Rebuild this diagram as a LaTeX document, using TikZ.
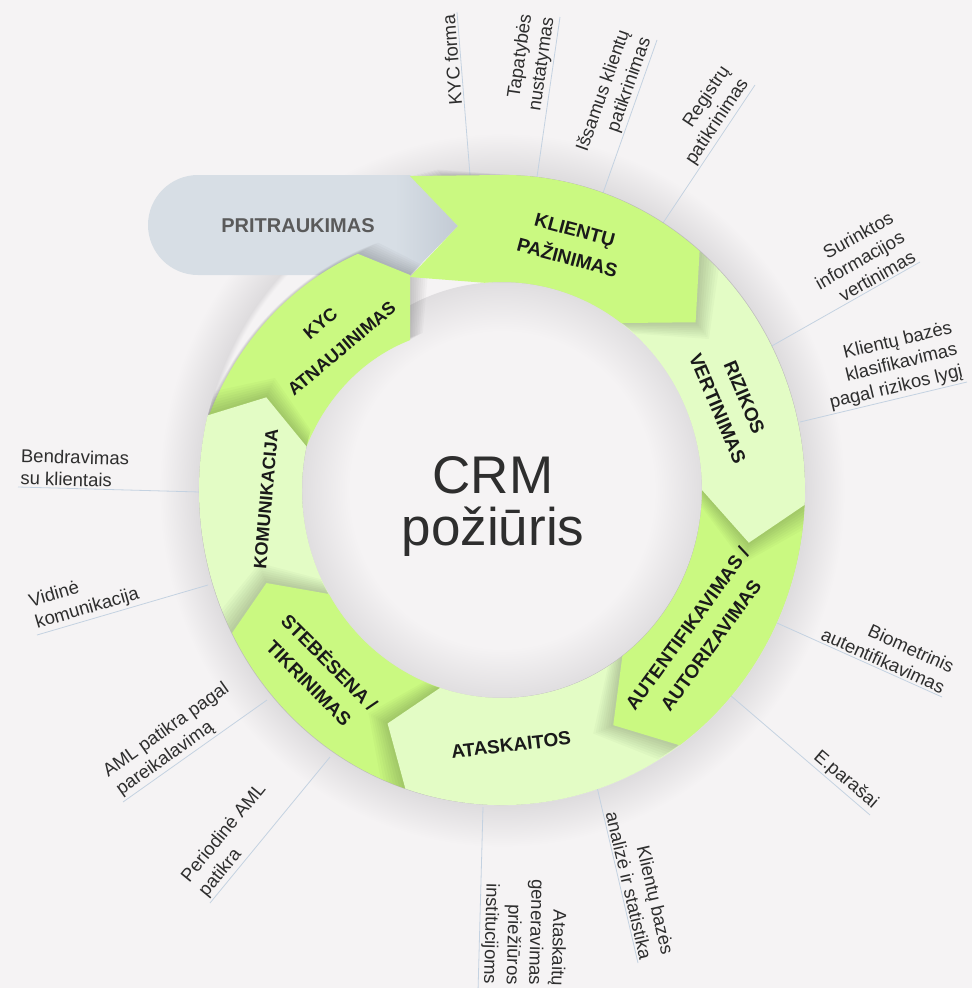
\documentclass[tikz,border=0pt]{standalone}
\usepackage{fontspec}
\setmainfont{Liberation Sans}
\usetikzlibrary{calc}
\definecolor{bgc}{HTML}{F5F3F4}
\definecolor{bright}{HTML}{CAF981}
\definecolor{light}{HTML}{E3FCC5}
\definecolor{pill}{HTML}{D7DEE5}
\definecolor{pilldark}{HTML}{C2CAD4}
\definecolor{pilltxt}{HTML}{5A5A5A}
\definecolor{leader}{HTML}{C4D2E1}
\definecolor{halo}{HTML}{DEDCDE}
\definecolor{innerdark}{HTML}{E0DEE0}
\definecolor{txt}{HTML}{2E2E2E}
\definecolor{segtxt}{HTML}{1A1A1A}
\pgfdeclareradialshading{haloshade}{\pgfpointorigin}{color(0bp)=(bgc); color(21.7bp)=(bgc); color(22.1bp)=(halo); color(25bp)=(bgc); color(50bp)=(bgc)}
\pgfdeclareradialshading{innershade}{\pgfpointorigin}{color(0bp)=(bgc); color(19bp)=(bgc); color(25bp)=(innerdark); color(50bp)=(innerdark)}
\def\rgCX{502}
\def\rgCY{490}
\def\rgRO{303}
\def\rgRI{200}
\def\rgRM{252}
\def\rgKY{1.04}
% #1 options, #2 start outer angle, #3 start inner angle, #4 end outer corner, #5 end inner corner, #6 tip angle
\newcommand\ringseg[6]{%
  \fill[#1] plot[domain=#2:#4,samples=60] ({\rgCX+\rgRO*cos(\x)},{\rgCY-\rgKY*\rgRO*sin(\x)})
    -- ({\rgCX+\rgRM*cos(#6)},{\rgCY-\rgKY*\rgRM*sin(#6)})
    -- plot[domain=#5:#3,samples=60] ({\rgCX+\rgRI*cos(\x)},{\rgCY-\rgKY*\rgRI*sin(\x)}) -- cycle;}
% soft shadow cast clockwise by a segment's pointed end
\newcommand\segshadow[5]{%
  \foreach \k in {0.6,1.2,...,4.9} {\ringseg{black,opacity=0.022,rotate around={-\k:(502,490)}}{#1}{#2}{#3}{#4}{#5}}}
\newcommand\kycpath{plot[domain=168:122.4,samples=60] ({\rgCX+(269+(\x-122.4)*0.7456)*cos(\x)},{\rgCY-\rgKY*(269+(\x-122.4)*0.7456)*sin(\x)})
  -- (410,275) -- (410,340)
  -- plot[domain=122.6:168,samples=60] ({\rgCX+(171+(\x-122.6)*0.6388)*cos(\x)},{\rgCY-\rgKY*(171+(\x-122.6)*0.6388)*sin(\x)}) -- cycle}
\newcommand\klpath{(410,176) -- (502,175)
  -- plot[domain=90:49.3,samples=60] ({\rgCX+\rgRO*cos(\x)},{\rgCY-\rgKY*\rgRO*sin(\x)})
  -- ({\rgCX+\rgRM*cos(39.8)},{\rgCY-\rgKY*\rgRM*sin(39.8)})
  -- plot[domain=53.4:95,samples=60] ({\rgCX+\rgRI*cos(\x)},{\rgCY-\rgKY*\rgRI*sin(\x)})
  -- (410,277) -- (458,226) -- cycle}
\tikzset{
  lbl/.style={font=\fontsize{18.5}{22.5}\selectfont, text=txt, inner sep=2pt},
  rlbl/.style={lbl, anchor=south east, align=right},
  llbl/.style={lbl, anchor=south west, align=left},
  seglbl/.style={font=\bfseries\fontsize{19}{29}\selectfont, text=segtxt, align=center, inner sep=0pt},
  lead/.style={draw=leader, line width=0.8pt},
  shadowcopy/.style={black, opacity=0.022},
}
\begin{document}
\begin{tikzpicture}[x=1pt,y=-1pt]
\useasboundingbox (0,0) rectangle (972,988);
\fill[bgc] (0,0) rectangle (972,988);
% soft halo around ring and shadow inside the hole
\shade[shading=haloshade] (502,490) ellipse [x radius=343pt, y radius=357pt];
\shade[shading=innershade] (502,490) ellipse [x radius=200pt, y radius=208pt];

% leader lines
\coordinate (r1) at (470,175);  \coordinate (o1) at (457,12);
\coordinate (r2) at (537,177);  \coordinate (o2) at (560,17);
\coordinate (r3) at (603,193);  \coordinate (o3) at (657,40);
\coordinate (r4) at (663,223);  \coordinate (o4) at (755,85);
\coordinate (r5) at (770,347);  \coordinate (o5) at (920,262);
\coordinate (r6) at (800,422);  \coordinate (o6) at (967,382);
\coordinate (r7) at (777,623);  \coordinate (o7) at (942,697);
\coordinate (r8) at (730,695);  \coordinate (o8) at (870,815);
\coordinate (r9) at (597,787);  \coordinate (o9) at (638,963);
\coordinate (r10) at (483,807); \coordinate (o10) at (478,992);
\coordinate (r11) at (330,757); \coordinate (o11) at (210,903);
\coordinate (r12) at (267,700); \coordinate (o12) at (123,802);
\coordinate (r13) at (208,585); \coordinate (o13) at (37,635);
\coordinate (r14) at (200,492); \coordinate (o14) at (18,487);
\foreach \i in {1,...,14} {\draw[lead] (r\i) -- (o\i);}

% PRITRAUKIMAS pill, darker towards its point
\fill[pill] (410,175) -- (198,175) arc[start angle=90, end angle=270, radius=50pt] -- (410,275) -- (458,226) -- cycle;
\begin{scope}
  \clip (395,175) -- (410,175) -- (458,226) -- (410,275) -- (395,275) -- cycle;
  \shade[left color=pill, right color=pilldark] (395,170) rectangle (460,280);
\end{scope}

% KYC ATNAUJINIMAS (its point lies over the pill)
\foreach \k in {0.6,1.2,...,4.9} {\fill[shadowcopy, rotate around={-\k:(502,490)}] \kycpath;}
\fill[bright] \kycpath;
% remaining segments, each drawn over the start of the next one
\segshadow{207}{210}{166.3}{167.9}{159.3}
\ringseg{light}{207}{210}{166.3}{167.9}{159.3}   % KOMUNIKACIJA
\segshadow{251.4}{252}{207}{210}{200.8}
\ringseg{bright}{251.4}{252}{207}{210}{200.8}    % STEBESENA
\segshadow{305.9}{307}{251.4}{252}{243}
\ringseg{light}{305.9}{307}{251.4}{252}{243}     % ATASKAITOS
\segshadow{357.3}{360}{305.9}{307}{296.2}
\ringseg{bright}{357.3}{360}{305.9}{307}{296.2}  % AUTENTIFIKAVIMAS
\segshadow{49.3}{53.4}{-2.7}{0}{-11.6}
\ringseg{light}{49.3}{53.4}{-2.7}{0}{-11.6}      % RIZIKOS
% KLIENTU PAZINIMAS with notch for the pill's point
\foreach \k in {0.6,1.2,...,4.9} {\fill[shadowcopy, rotate around={-\k:(502,490)}] \klpath;}
\fill[bright] \klpath;

% texts
\node[font=\bfseries\fontsize{20}{24}\selectfont, text=pilltxt] (prit) at (298,226) {PRITRAUKIMAS};
\node[seglbl, rotate=-15] (s1) at (571,244) {KLIENTŲ\\PAŽINIMAS};
\node[seglbl, rotate=-67] (s2) at (731,403) {RIZIKOS\\VERTINIMAS};
\node[seglbl, rotate=54] (s3) at (699,637) {AUTENTIFIKAVIMAS /\\AUTORIZAVIMAS};
\node[seglbl, rotate=6.7] (s4) at (511,745) {ATASKAITOS};
\node[seglbl, rotate=-45] (s5) at (320,672) {STEBĖSENA /\\TIKRINIMAS};
\node[seglbl, font=\bfseries\fontsize{18}{29}\selectfont, rotate=85] (s6) at (266,499) {KOMUNIKACIJA};
\node[seglbl, font=\bfseries\fontsize{18}{33}\selectfont, rotate=40] (s7) at (331,336) {KYC\\ATNAUJINIMAS};

\node[font=\fontsize{53}{52}\selectfont, text=txt, align=center, anchor=north, inner sep=0pt] (crm) at (493,456) {CRM\\požiūris};

\node[rlbl, rotate=94.6] (l1) at (o1) {KYC forma};
\node[rlbl, rotate=81.8] (l2) at (o2) {Tapatybės\\nustatymas};
\node[rlbl, rotate=70.6] (l3) at (o3) {Išsamus klientų\\patikrinimas};
\node[rlbl, rotate=56.3] (l4) at (o4) {Registrų\\patikrinimas};
\node[rlbl, rotate=29.5] (l5) at (o5) {Surinktos\\informacijos\\vertinimas};
\node[rlbl, rotate=13.5] (l6) at (o6) {Klientų bazės\\klasifikavimas\\pagal rizikos lygį};
\node[rlbl, rotate=-24.2] (l7) at (o7) {Biometrinis\\autentifikavimas};
\node[rlbl, rotate=-40.6] (l8) at (o8) {E.parašai};
\node[rlbl, rotate=-76.9] (l9) at (o9) {Klientų bazės\\analizė ir statistika};
\node[rlbl, rotate=-91.5] (l10) at ($(o10)+(0,-6)$) {Ataskaitų\\generavimas\\priežiūros\\institucijoms};
\node[llbl, rotate=50.6] (l11) at (o11) {Periodinė AML\\patikra};
\node[llbl, rotate=35.3] (l12) at (o12) {AML patikra pagal\\pareikalavimą};
\node[llbl, rotate=16.3] (l13) at (o13) {Vidinė\\komunikacija};
\node[llbl, rotate=-1.6] (l14) at (o14) {Bendravimas\\su klientais};
\end{tikzpicture}
\end{document}
